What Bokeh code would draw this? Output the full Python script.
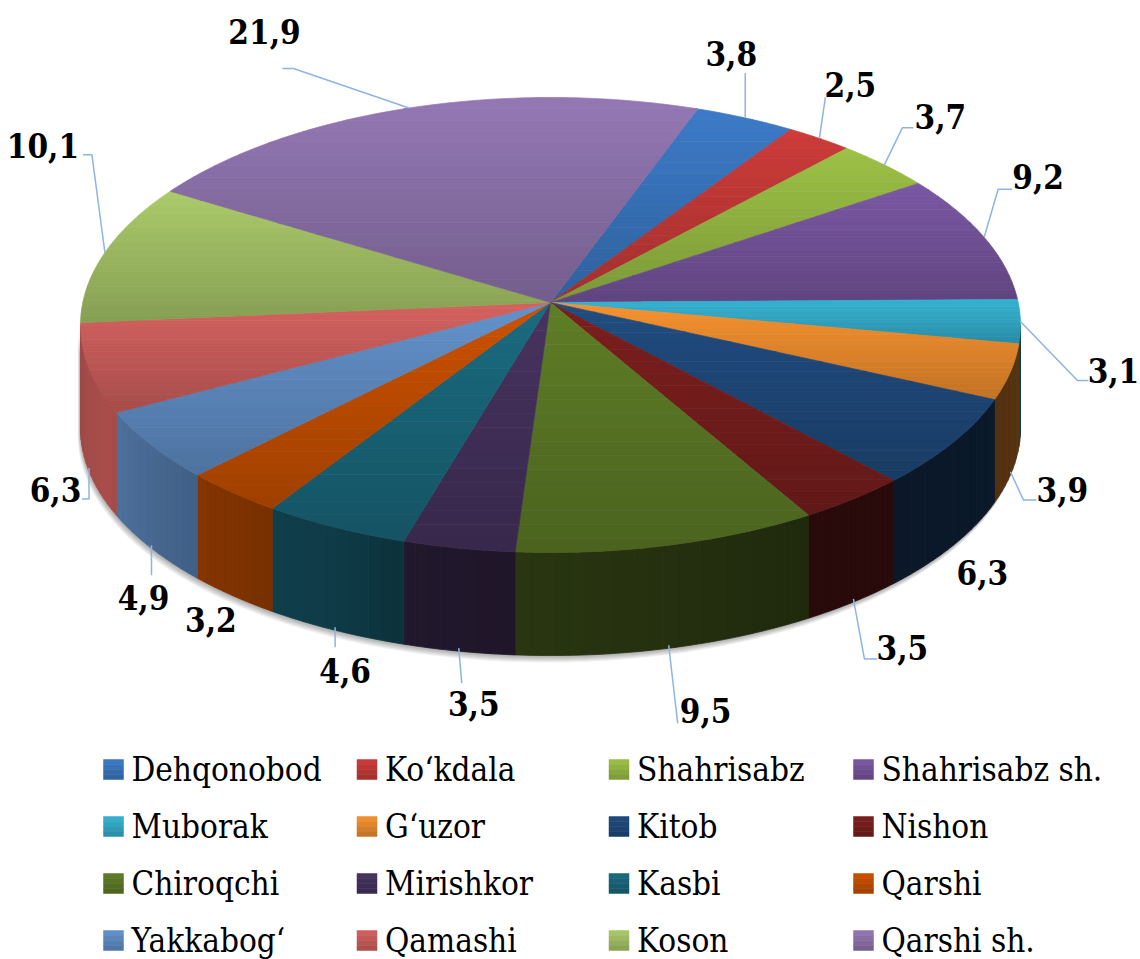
import numpy as np
from bokeh.plotting import figure
from bokeh.models import Range1d
from bokeh.embed import file_html
from bokeh.resources import INLINE
from bokeh.core.properties import value

# ---------------- data ----------------
names = ["Dehqonobod", "Ko\u2018kdala", "Shahrisabz", "Shahrisabz sh.",
         "Muborak", "G\u2018uzor", "Kitob", "Nishon",
         "Chiroqchi", "Mirishkor", "Kasbi", "Qarshi",
         "Yakkabog\u2018", "Qamashi", "Koson", "Qarshi sh."]
values = [3.8, 2.5, 3.7, 9.2, 3.1, 3.9, 6.3, 3.5,
          9.5, 3.5, 4.6, 3.2, 4.9, 6.3, 10.1, 21.9]
colors = ["#3c7bc8", "#cd3c39", "#9dc246", "#7b58a4",
          "#35b3d3", "#f7922f", "#204c80", "#7c1f1e",
          "#5f7e27", "#473360", "#1a6b80", "#cc5200",
          "#6392cc", "#d5625f", "#abcb6a", "#9478b4"]
labels = [f"{v:.1f}".replace(".", ",") for v in values]

# ---------------- layout / style ----------------
label_dx = [-14, 31, 56, 54, 93, 52, 29, 49, 37, 15, 10, -22, -8, -33.5, -62, -144.5]
label_dy = [-64, -54, -48, -61, 49, 17.6, 30, 48.5, 65, 55, 43, 27, 52, 21, -107, -76.5]
leaders = [
    [(0, 0), (0, -45)],
    [(0, 0), (6, -41)],
    [(0, 0), (18, -37), (29, -37)],
    [(0, 0), (14, -48), (28, -48)],
    [(0, 0), (57, 59), (68, 59)],
    [(0, 0), (13, 28), (26, 28)],
    None,
    [(0, 0), (11, 60), (24, 60)],
    [(0, 0), (9, 78)],
    [(0, 0), (3, 35)],
    [(0, 0), (0, 20)],
    None,
    [(0, 0), (0, 30)],
    [(0, 0), (0, 31), (-7, 31)],
    [(0, 0), (-13, -98), (-22, -98)],
    [(0, 0), (-115.5, -39.5), (-126.5, -39.5)],
]

FONT = value("DejaVu Serif Condensed")
LEGEND_SIZE = "33px"
LABEL_SIZE = "33px"

CX, CY = 550.0, 302.0
RX, RY = 467.7, 225.3
PERSP = 0.0989
DEPTH = 103.0
START = 20.1

leg_col_x = [113, 366.5, 618.5, 863]
leg_row_y = [769, 826, 883, 940]
SQ = 20

W, H = 1140, 959
X0, Y0 = 0, 0


def hex2rgb(h):
    return np.array([int(h[k:k + 2], 16) for k in (1, 3, 5)], float)


def rgb2hex(c):
    c = np.clip(np.round(c), 0, 255).astype(int)
    return "#%02x%02x%02x" % tuple(c)


def proj(theta_deg):
    t = np.radians(theta_deg)
    u, v = np.sin(t), np.cos(t)
    d = 1 + PERSP * v
    return CX + RX * u / d, CY - RY * v / d


def clip_y(poly, yc, keep_ge):
    out = []
    n = len(poly)
    for k in range(n):
        P = poly[k]
        Q = poly[(k + 1) % n]
        inP = P[1] >= yc if keep_ge else P[1] <= yc
        inQ = Q[1] >= yc if keep_ge else Q[1] <= yc
        if inP:
            out.append(P)
        if inP != inQ:
            t = (yc - P[1]) / (Q[1] - P[1])
            out.append((P[0] + t * (Q[0] - P[0]), yc))
    return out


p = figure(width=W, height=H, x_range=Range1d(X0, X0 + W), y_range=Range1d(Y0 + H, Y0),
           x_axis_type=None, y_axis_type=None, output_backend="svg",
           toolbar_location=None, min_border=0, outline_line_color=None)
p.background_fill_color = "white"
p.border_fill_color = "white"

vals = np.array(values, float)
cum = np.cumsum(vals)
tot = vals.sum()
a0 = START + 360.0 * (cum - vals) / tot
a1 = START + 360.0 * cum / tot
amid = (a0 + a1) / 2
rgb = [hex2rgb(c) for c in colors]

TH_R = np.degrees(np.arccos(-PERSP))
TH_L = 360.0 - TH_R

# ---- soft shadow under the front wall ----
th = np.linspace(TH_R, TH_L, 240)
fx, fy = proj(th)
sh_xs, sh_ys = [], []
for k in range(1, 8):
    xs_ = np.concatenate([fx, fx[::-1]]) - 0.4 * k
    ys_ = np.concatenate([fy, fy[::-1] + DEPTH]) + k
    sh_xs.append(list(xs_))
    sh_ys.append(list(ys_))
p.patches(sh_xs, sh_ys, fill_color="black", fill_alpha=0.05, line_color=None)

# ---- walls ----
shade_th = [95, 130, 150, 184, 197, 205, 220, 235, 245, 265]
shade_f = [0.36, 0.31, 0.33, 0.43, 0.47, 0.55, 0.62, 0.72, 0.79, 0.74]
w_xs, w_ys, w_col = [], [], []
for i in range(len(vals)):
    s0, s1 = max(a0[i], TH_R), min(a1[i], TH_L)
    if s1 <= s0:
        continue
    nstr = int(np.ceil((s1 - s0) / 1.5))
    ed = np.linspace(s0, s1, nstr + 1)
    for j in range(nstr):
        tt = np.linspace(ed[j], ed[j + 1], 3)
        tx, ty = proj(tt)
        w_xs.append(list(np.concatenate([tx, tx[::-1]])))
        w_ys.append(list(np.concatenate([ty, ty[::-1] + DEPTH])))
        f = np.interp((ed[j] + ed[j + 1]) / 2, shade_th, shade_f)
        w_col.append(rgb2hex(rgb[i] * f))
p.patches(w_xs, w_ys, fill_color=w_col, line_color=w_col, line_width=0.8)

# ---- top faces (vertical gradient per slice) ----
t_xs, t_ys, t_col = [], [], []
NB = 18
for i in range(len(vals)):
    tt = np.linspace(a0[i], a1[i], max(6, int((a1[i] - a0[i]) / 0.75)))
    ax, ay = proj(tt)
    poly = [(CX, CY)] + list(zip(ax, ay))
    yy = [q[1] for q in poly]
    ed = np.linspace(min(yy), max(yy), NB + 1)
    for b in range(NB):
        pp = clip_y(clip_y(poly, ed[b], True), ed[b + 1], False)
        if len(pp) < 3:
            continue
        t = (b + 0.5) / NB
        c = rgb2hex(rgb[i] * (1 - 0.22 * t))
        t_xs.append([q[0] for q in pp])
        t_ys.append([q[1] for q in pp])
        t_col.append(c)
p.patches(t_xs, t_ys, fill_color=t_col, line_color=t_col, line_width=0.7)

# ---- data labels and leader lines ----
anc_x, anc_y = [], []
for i in range(len(vals)):
    x, y = proj(amid[i])
    if TH_R <= amid[i] <= TH_L:
        y = y + DEPTH - 3
    anc_x.append(float(x))
    anc_y.append(float(y))

l_xs, l_ys = [], []
for i, ld in enumerate(leaders):
    if ld is None:
        continue
    l_xs.append([anc_x[i] + q[0] for q in ld])
    l_ys.append([anc_y[i] + q[1] for q in ld])
p.multi_line(l_xs, l_ys, line_color="#8db4e2", line_width=1.5)

lab_x = [anc_x[i] + label_dx[i] for i in range(len(vals))]
lab_y = [anc_y[i] + label_dy[i] for i in range(len(vals))]
p.text(x=lab_x, y=lab_y, text=labels, text_font=FONT,
       text_font_style="bold", text_font_size=LABEL_SIZE, text_align="center",
       text_baseline="middle", text_color="black")

# ---- legend ----
q_l, q_r, q_t, q_b, q_c = [], [], [], [], []
tx_, ty_ = [], []
for i in range(len(names)):
    r, c = divmod(i, 4)
    cx, cy = leg_col_x[c], leg_row_y[r]
    for b in range(4):
        q_l.append(cx - SQ / 2)
        q_r.append(cx + SQ / 2)
        q_t.append(cy - SQ / 2 + b * SQ / 4)
        q_b.append(cy - SQ / 2 + (b + 1) * SQ / 4)
        q_c.append(rgb2hex(rgb[i] * (1 - 0.22 * (b + 0.5) / 4)))
    tx_.append(cx + 18)
    ty_.append(cy)
p.quad(left=q_l, right=q_r, top=q_t, bottom=q_b, fill_color=q_c, line_color=q_c, line_width=0.5)
p.text(x=tx_, y=ty_, text=names, text_font=FONT,
       text_font_size=LEGEND_SIZE, text_align="left", text_baseline="middle",
       text_color="black")

open("out.html", "w").write(file_html(p, INLINE))
